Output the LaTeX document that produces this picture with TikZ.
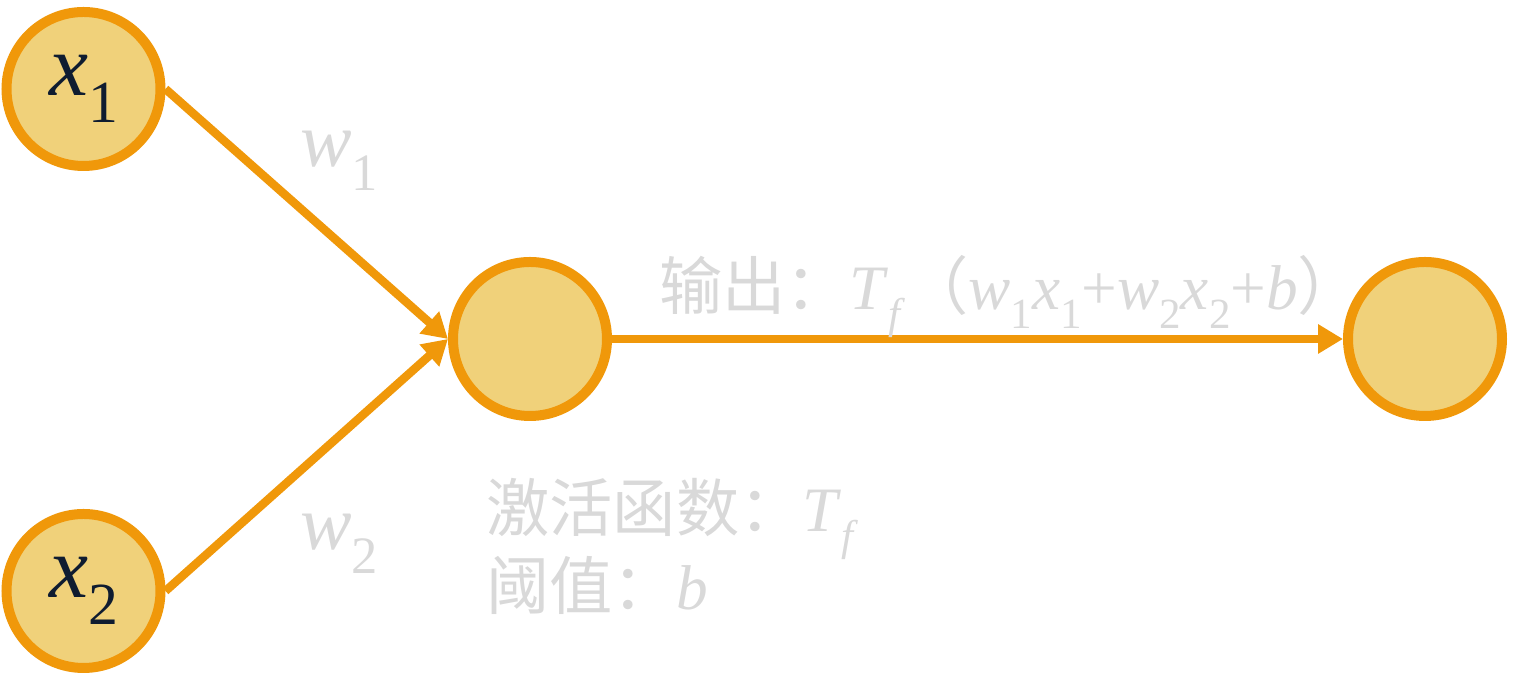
\documentclass[tikz,border=0pt]{standalone}
\usepackage{fontspec}
\setmainfont{LiberationSerif}[Extension=.ttf, UprightFont=*-Regular,
  ItalicFont=*-Italic, BoldFont=*-Bold, BoldItalicFont=*-BoldItalic]
\newfontfamily\cjk{Noto Sans CJK SC}
\usetikzlibrary{arrows.meta,positioning}
\definecolor{cellfill}{RGB}{240,209,122}
\definecolor{cellline}{RGB}{240,152,10}
\definecolor{softgray}{RGB}{217,217,217}
\definecolor{ink}{RGB}{15,28,48}
\newcommand{\isub}[2]{\textit{#1}\raisebox{-0.3em}{\scalebox{0.68}{#2}}}
\newcommand{\zh}[1]{{\cjk #1}}

\begin{document}
\begin{tikzpicture}[
  cell/.style={circle, draw=cellline, fill=cellfill, line width=1mm,
    minimum size=15.4mm, inner sep=0pt, text=ink,
    font=\rmfamily\fontsize{25}{28}\selectfont},
  e/.style={-{Triangle[length=2.5mm, width=2.8mm]}, draw=cellline,
    line width=0.85mm},
  wt/.style={text=softgray, font=\rmfamily\fontsize{22}{26}\selectfont, anchor=base west},
  note/.style={text=softgray, font=\rmfamily\fontsize{18}{22}\selectfont, anchor=base west},
]
\useasboundingbox (0,0) rectangle (15.29,6.79);
% inputs
\node[cell] (x1) at (0.835,5.90) {\isub{x}{1}};
\node[cell] (x2) at (0.835,0.88) {\isub{x}{2}};
% neuron and output
\node[cell] (h) at (5.30,3.40) {};
\node[cell] (o) at (14.25,3.40) {};
% edges
\draw[e] (x1.east) -- (h.west);
\draw[e] (x2.east) -- (h.west);
\draw[e] (h) -- (o);
% weights
\node[wt] (w1) at (2.88,5.12) {\isub{w}{1}};
\node[wt] (w2) at (2.88,1.29) {\isub{w}{2}};
% notes
\node[note] (out) at (6.47,3.69) {\zh{输出：}\isub{T}{\textit{f}}\zh{（}\isub{w}{1}\isub{x}{1}+\isub{w}{2}\isub{x}{2}+\textit{b}\zh{）}};
\node[note] (act) at (4.74,1.47) {\zh{激活函数：}\isub{T}{\textit{f}}};
\node[note] (thr) at (4.74,0.69) {\zh{阈值：}\textit{b}};
\end{tikzpicture}
\end{document}
